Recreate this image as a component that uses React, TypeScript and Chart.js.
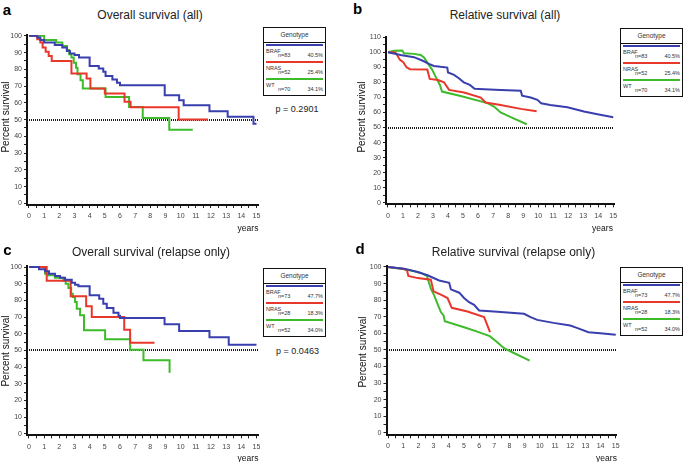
import React, { useEffect, useRef } from 'react';
import { Chart, registerables } from 'chart.js';
Chart.register(...registerables);

const FONT = "'Liberation Sans', Arial, Helvetica, sans-serif";

const genotypes = ['BRAF', 'NRAS', 'WT'];
const colors = ['#3a3fae', '#e8372b', '#3dbb2a'];

const countsAll = ['n=83', 'n=52', 'n=70'];
const pctAll = ['40.5%', '25.4%', '34.1%'];
const countsRelapse = ['n=73', 'n=28', 'n=52'];
const pctRelapse = ['47.7%', '18.3%', '34.0%'];

const xTicksYears = [0, 15];
const pValueAll = 'p = 0.2901';
const pValueRelapse = 'p = 0.0463';

// a: Overall survival (all) — [years, percent]
const aBRAF = [[0,100],[0.55,99],[0.75,97.5],[1.0,96],[1.7,94.5],[2.2,93],[2.5,91],[2.7,89.5],[3.0,88.5],[3.3,87],[4.0,82],[4.6,80.5],[4.9,78.5],[5.05,76],[5.5,74],[5.8,72],[6.0,70.5],[8.95,64.5],[9.9,61.5],[10.2,58.5],[11.9,55],[13.1,51.7],[14.8,47.5],[15,47.5]];
const aNRAS = [[0,100],[0.55,98],[0.75,96],[0.9,93],[1.1,90.5],[1.3,88],[1.5,85],[2.8,77.5],[3.8,74.5],[4.05,68.6],[5.0,65.6],[6.3,60.6],[6.7,57.3],[9.87,50],[11.8,50]];
const aWT = [[0,100],[1.0,97.5],[1.8,96],[2.2,94],[2.5,91.5],[2.65,89],[2.8,87],[2.95,84],[3.1,81],[3.2,77],[3.4,73.5],[3.55,68.5],[5.05,63.5],[6.6,57.5],[7.5,51],[9.25,44],[10.8,44]];

// b: Relative survival (all)
const bBRAF = [[0,100],[0.84,98.2],[1.73,96.7],[2.28,94.5],[2.73,92.3],[3.06,90.9],[3.5,90.3],[3.95,89.8],[4.0,86.5],[4.4,85],[4.72,82.7],[5.05,80],[5.45,78.3],[5.77,75.7],[6.4,75.4],[7.5,75],[8.84,74.5],[8.93,71.2],[9.5,69.9],[9.95,68.4],[10.2,66.1],[10.8,65],[11.95,63.5],[13.05,60.6],[13.95,58.8],[15,56.9]];
const bNRAS = [[0,100],[0.5,99.8],[0.8,94.9],[1.02,93.4],[1.24,90],[1.47,88.7],[2.62,88.5],[2.78,82.3],[3.33,81.6],[3.73,80.1],[4.07,75],[5.07,73.2],[6.18,69.9],[6.5,66.6],[7.5,65],[8.84,62.4],[9.9,60.8]];
const bWT = [[0,100],[0.4,100.9],[0.95,101.1],[1.07,99.3],[1.73,98.9],[2.17,98.2],[2.4,96.5],[2.62,93.1],[2.95,88.3],[3.17,83.8],[3.46,78.3],[3.6,73.9],[4.84,71],[6.62,66.2],[7.06,63.9],[7.5,60],[8.18,56.9],[9.24,52.2]];

// c: Overall survival (relapse only)
const cBRAF = [[0,100],[0.66,98.6],[1.06,97.4],[1.32,96],[1.72,94.6],[2.05,93.6],[2.38,92.4],[2.82,90.6],[3.04,89.4],[3.26,88.4],[4.0,83],[4.63,81],[4.9,78],[5.13,75.4],[5.57,72.6],[5.9,70.8],[6.0,69.4],[8.94,65.6],[9.9,61.6],[11.9,57.8],[13.17,53.4],[15,53.4]];
const cNRAS = [[0,100],[1.17,91.8],[2.75,82.4],[3.77,76.4],[4.14,70],[6.28,62.4],[6.67,54.6],[8.28,54.6]];
const cWT = [[0,100],[1.06,96],[1.25,95],[1.72,93.6],[2.27,91.6],[2.42,90],[2.6,87.4],[2.78,84],[2.89,82],[3.04,79],[3.15,75],[3.37,71],[3.63,62],[5.02,56.6],[6.67,50.4],[7.55,44],[9.27,36.6]];

// d: Relative survival (relapse only)
const dBRAF = [[0,100],[1.07,99],[1.95,97],[2.6,95],[3.37,91.9],[4.03,90.5],[4.14,86.5],[4.69,84.5],[5.01,81.3],[5.34,78.8],[5.67,77.2],[6.0,73.8],[6.98,73.2],[8.96,71.8],[9.39,69.8],[9.83,68.1],[10.9,66.3],[12.0,64.7],[12.44,63.3],[13.2,60.7],[13.99,60.1],[15,59.1]];
const dNRAS = [[0,100],[0.96,99],[1.25,98],[1.34,94.6],[1.95,93.3],[2.82,92.3],[3.0,85.3],[3.48,83.3],[3.92,81.3],[4.2,75.4],[5.23,73.2],[6.33,69.8],[6.72,60.7]];
const dWT = [[0,100],[1.07,98.6],[1.73,97.4],[2.17,96.4],[2.56,94.6],[2.82,86.9],[3.04,82.9],[3.26,77.8],[3.48,72.8],[3.66,70.8],[3.74,67.3],[5.01,63.7],[5.78,61.3],[6.7,58.3],[7.2,54.6],[7.64,51],[8.19,48.6],[9.33,43.5]];

const halfLine = {
  id: 'halfLine',
  beforeDatasetsDraw(chart: any) {
    const { ctx, chartArea, scales } = chart;
    const py = Math.round(scales.y.getPixelForValue(50));
    ctx.save();
    ctx.strokeStyle = '#1a1a1a';
    ctx.lineWidth = 2;
    ctx.setLineDash([1, 1]);
    ctx.beginPath();
    ctx.moveTo(Math.round(chartArea.left), py);
    ctx.lineTo(Math.round(chartArea.right), py);
    ctx.stroke();
    ctx.restore();
  },
};

type Cfg = {
  left: number; top: number; w: number; h: number;
  yW: number; xH: number; padTop: number; padRight: number;
  xMin: number; xMax: number; yMin: number; yMax: number;
  stepped: boolean; series: number[][][];
};

function Panel({ cfg }: { cfg: Cfg }) {
  const ref = useRef<HTMLCanvasElement>(null);
  useEffect(() => {
    const tickFont = { size: 7, family: FONT };
    const chart = new Chart(ref.current as HTMLCanvasElement, {
      type: 'line',
      data: {
        datasets: cfg.series.map((s, i) => ({
          label: genotypes[i],
          data: s.map(([x, y]) => ({ x, y })),
          borderColor: colors[i],
          backgroundColor: colors[i],
          borderWidth: 2,
          pointRadius: 0,
          stepped: cfg.stepped ? 'before' : false,
          tension: 0,
          fill: false,
        })),
      } as any,
      options: {
        animation: false,
        responsive: false,
        maintainAspectRatio: false,
        layout: { padding: { top: cfg.padTop, right: cfg.padRight, left: 0, bottom: 0 } },
        plugins: { legend: { display: false }, tooltip: { enabled: false } },
        scales: {
          x: {
            type: 'linear',
            min: cfg.xMin,
            max: cfg.xMax,
            afterFit: (s: any) => { s.height = cfg.xH; s.paddingLeft = 0; s.paddingRight = 0; },
            ticks: {
              stepSize: 0.5,
              includeBounds: false,
              autoSkip: false,
              maxRotation: 0,
              minRotation: 0,
              padding: 4,
              font: tickFont,
              color: '#444',
              callback: (v: any) => (Number.isInteger(v) && v >= xTicksYears[0] && v <= xTicksYears[1] ? String(v) : ''),
            },
            grid: { drawOnChartArea: false, drawTicks: true, tickLength: 3, color: '#222', lineWidth: 1 },
            border: { display: true, color: '#111', width: 2 },
          },
          y: {
            type: 'linear',
            min: cfg.yMin,
            max: cfg.yMax,
            afterFit: (s: any) => { s.width = cfg.yW; s.paddingTop = 0; s.paddingBottom = 0; },
            ticks: {
              stepSize: 5,
              includeBounds: false,
              autoSkip: false,
              padding: 2,
              font: tickFont,
              color: '#444',
              callback: (v: any) => (v % 10 === 0 ? String(v) : ''),
            },
            grid: { drawOnChartArea: false, drawTicks: true, tickLength: 3, color: '#222', lineWidth: 1 },
            border: { display: true, color: '#111', width: 2 },
          },
        },
      } as any,
      plugins: [halfLine],
    });
    return () => chart.destroy();
  }, []);
  return (
    <canvas
      ref={ref}
      width={cfg.w}
      height={cfg.h}
      style={{ position: 'absolute', left: cfg.left, top: cfg.top, width: cfg.w, height: cfg.h }}
    />
  );
}

function Txt({ x, y, children, size, bold, color, rotate }: any) {
  return (
    <div
      style={{
        position: 'absolute', left: x, top: y, whiteSpace: 'nowrap',
        transform: `translate(-50%, -50%)${rotate ? ' rotate(-90deg)' : ''}`,
        fontFamily: FONT, fontSize: size, fontWeight: bold ? 'bold' : 'normal',
        color: color || '#222', lineHeight: 1,
      }}
    >
      {children}
    </div>
  );
}

function LegendBox({ left, top, counts, pcts }: any) {
  const small = { position: 'absolute' as const, fontSize: 5.5, lineHeight: '6px', color: '#333', fontFamily: FONT, whiteSpace: 'nowrap' as const };
  return (
    <div style={{ position: 'absolute', left, top, width: 63, height: 69, border: '1.5px solid #111', boxSizing: 'border-box', background: '#fff' }}>
      <div style={{ height: 14, borderBottom: '1px solid #111', fontSize: 6.5, textAlign: 'center', lineHeight: '14px', color: '#333', fontFamily: FONT }}>Genotype</div>
      {genotypes.map((g, i) => (
        <div key={g} style={{ position: 'relative', height: 17 }}>
          <div style={{ position: 'absolute', left: 2, right: 2, top: 1, height: 2, background: colors[i] }} />
          <div style={{ ...small, left: 2, top: 4.5 }}>{g}</div>
          <div style={{ ...small, left: 14, top: 9 }}>{counts[i]}</div>
          <div style={{ ...small, right: 2, top: 9 }}>{pcts[i]}</div>
        </div>
      ))}
    </div>
  );
}

const panelA: Cfg = { left: 0, top: 25, w: 265, h: 200, yW: 27, xH: 20, padTop: 10, padRight: 7, xMin: -0.13, xMax: 15.1, yMin: -1, yMax: 100.5, stepped: true, series: [aBRAF, aNRAS, aWT] };
const panelB: Cfg = { left: 355, top: 25, w: 265, h: 200, yW: 31, xH: 20.6, padTop: 12, padRight: 6, xMin: -0.13, xMax: 15.05, yMin: -1, yMax: 110.1, stepped: false, series: [bBRAF, bNRAS, bWT] };
const panelC: Cfg = { left: 0, top: 255, w: 265, h: 200, yW: 27, xH: 19.6, padTop: 11, padRight: 7, xMin: -0.13, xMax: 15.1, yMin: -1, yMax: 100.6, stepped: true, series: [cBRAF, cNRAS, cWT] };
const panelD: Cfg = { left: 355, top: 255, w: 265, h: 200, yW: 31.5, xH: 19.7, padTop: 11, padRight: 3.5, xMin: -0.1, xMax: 15.05, yMin: -1.5, yMax: 100.6, stepped: false, series: [dBRAF, dNRAS, dWT] };

export default function App() {
  return (
    <div style={{ position: 'absolute', left: 0, top: 0, width: 685, height: 462, background: '#fff', overflow: 'hidden' }}>
      <Panel cfg={panelA} />
      <Panel cfg={panelB} />
      <Panel cfg={panelC} />
      <Panel cfg={panelD} />

      <Txt x={7} y={9} size={15} bold color="#000">a</Txt>
      <Txt x={357.5} y={8} size={15} bold color="#000">b</Txt>
      <Txt x={7.5} y={249} size={15} bold color="#000">c</Txt>
      <Txt x={360} y={247.5} size={15} bold color="#000">d</Txt>

      <Txt x={150} y={15} size={12}>Overall survival (all)</Txt>
      <Txt x={505} y={15} size={12}>Relative survival (all)</Txt>
      <Txt x={151} y={252} size={12}>Overall survival (relapse only)</Txt>
      <Txt x={513.5} y={252} size={12}>Relative survival (relapse only)</Txt>

      <Txt x={6} y={117} size={10} rotate color="#111">Percent survival</Txt>
      <Txt x={362} y={117} size={10} rotate color="#111">Percent survival</Txt>
      <Txt x={6} y={351} size={10} rotate color="#111">Percent survival</Txt>
      <Txt x={363} y={352} size={10} rotate color="#111">Percent survival</Txt>

      <Txt x={248} y={228} size={8.5} color="#111">years</Txt>
      <Txt x={602.5} y={228} size={8.5} color="#111">years</Txt>
      <Txt x={248} y={458} size={8.5} color="#111">years</Txt>
      <Txt x={606.5} y={458} size={8.5} color="#111">years</Txt>

      <LegendBox left={263} top={27} counts={countsAll} pcts={pctAll} />
      <LegendBox left={620} top={28} counts={countsAll} pcts={pctAll} />
      <LegendBox left={263} top={268} counts={countsRelapse} pcts={pctRelapse} />
      <LegendBox left={620} top={267} counts={countsRelapse} pcts={pctRelapse} />

      <Txt x={297} y={109} size={9} color="#222">{pValueAll}</Txt>
      <Txt x={297.5} y={351} size={9} color="#222">{pValueRelapse}</Txt>
    </div>
  );
}
